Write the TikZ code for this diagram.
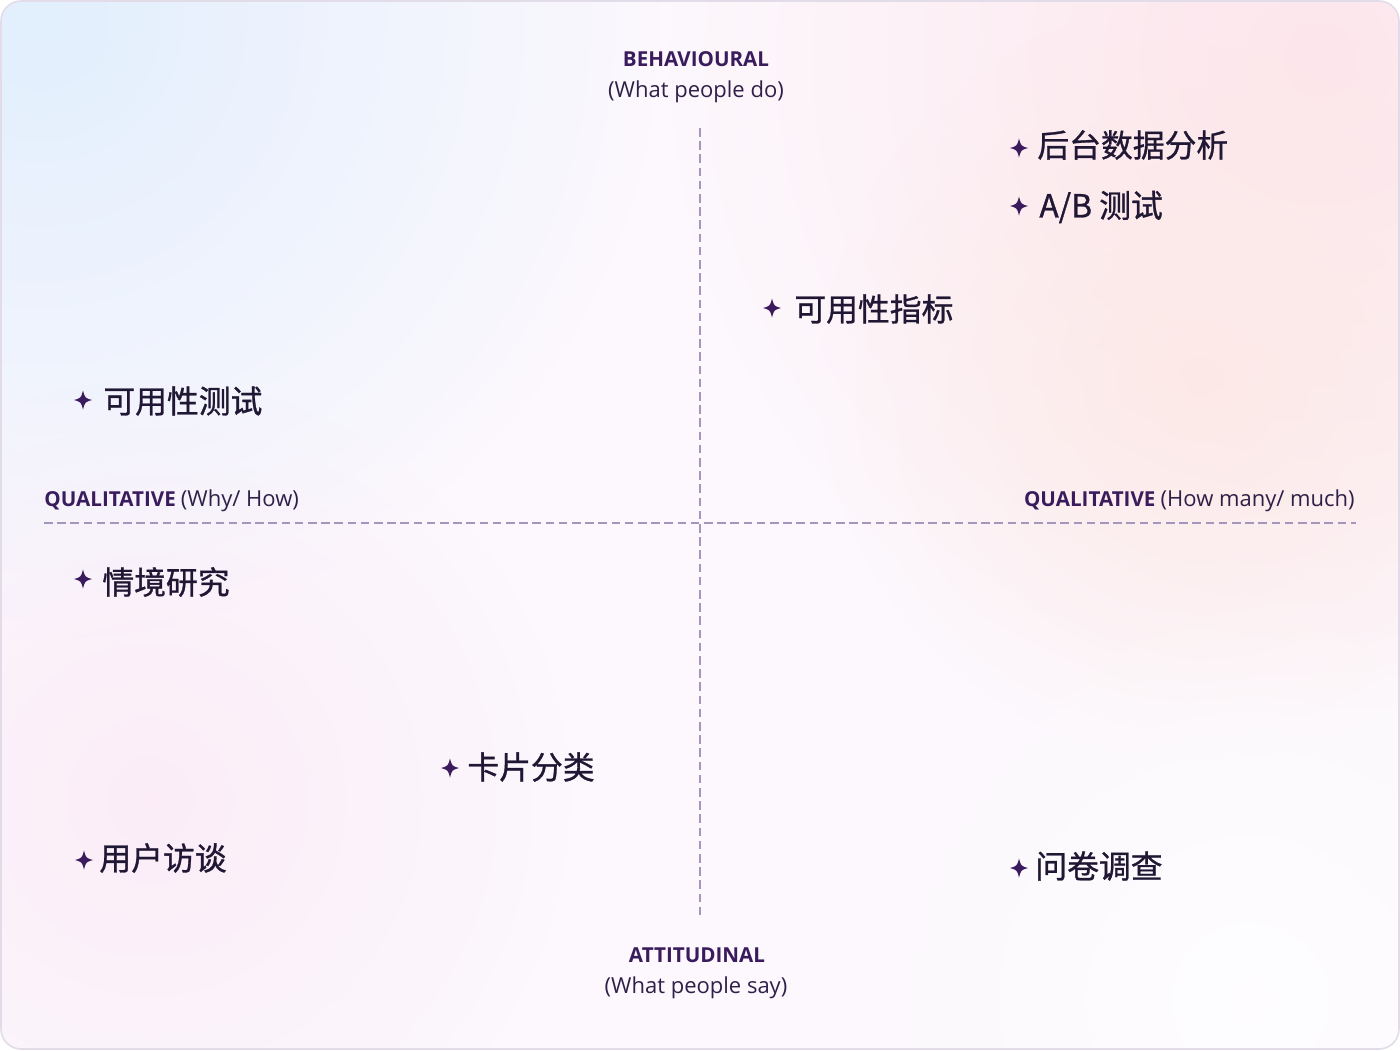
\documentclass[tikz,border=0pt]{standalone}
\usepackage{fontspec}
\setmainfont{Open Sans}
\newfontfamily\cjk{Noto Sans CJK SC}[FakeBold=0.9]
\usetikzlibrary{fadings}
\tikzfading[name=softglow, inner color=transparent!0, outer color=transparent!100]
\definecolor{bgbase}{HTML}{FCF8FD}
\definecolor{blobblue}{HTML}{E2EFFD}
\definecolor{blobpink}{HTML}{FCE6EC}
\definecolor{blobpeach}{HTML}{FCE8E4}
\definecolor{blobrose}{HTML}{FBEAF6}
\definecolor{framec}{HTML}{E2DCE8}
\definecolor{axisc}{HTML}{A596BE}
\definecolor{labelc}{HTML}{3A1C5C}
\definecolor{subc}{HTML}{2E2048}
\definecolor{itemc}{HTML}{1F1733}
\definecolor{starc}{HTML}{3B1A5E}
\tikzset{
  axislabel/.style={font=\fontsize{10.3}{12}\selectfont\bfseries, text=labelc, inner sep=0pt},
  axissub/.style={font=\fontsize{11}{13}\selectfont, text=subc, inner sep=0pt},
  axisline/.style={draw=axisc, line width=1.4pt, dash pattern=on 4.3pt off 2.3pt},
  itemtext/.style={font=\cjk\fontsize{15.9}{18}\selectfont, text=itemc, inner sep=0pt, anchor=west},
  blob/.style={path fading=softglow},
  sparkle/.pic={\fill[starc] (0,-9.5) .. controls (2,-2) .. (9,0) .. controls (2,2) .. (0,9.5) .. controls (-2,2) .. (-9,0) .. controls (-2,-2) .. (0,-9.5) -- cycle;}
}
\begin{document}
\begin{tikzpicture}[x=0.5pt, y=-0.5pt]
\useasboundingbox (0,0) rectangle (1400,1050);
% background card
\begin{scope}
\clip[rounded corners=10pt] (1,1) rectangle (1399,1049);
\fill[bgbase] (0,0) rectangle (1400,1050);
\fill[blobblue, blob] (40,20) circle (620);
\fill[blobpink, blob] (1320,60) circle (650);
\fill[blobpeach, blob, opacity=0.8] (1200,380) circle (380);
\fill[blobrose, blob, opacity=0.8] (150,800) circle (420);
\fill[white, blob, opacity=0.7] (1250,1000) circle (420);
\end{scope}
\draw[framec, line width=0.8pt, rounded corners=10pt] (1,1) rectangle (1399,1049);

% axes
\coordinate (vtop) at (700,128);
\coordinate (vbot) at (700,918);
\coordinate (hleft) at (44,523);
\coordinate (hright) at (1356,523);
\draw[axisline] (vtop) -- (vbot);
\draw[axisline] (hleft) -- (hright);

% axis labels
\node[axislabel] (beh) at (696,59) {BEHAVIOURAL};
\node[axissub] (behsub) at (696,92) {(What people do)};
\node[axislabel] (att) at (697,955) {ATTITUDINAL};
\node[axissub] (attsub) at (696,988) {(What people say)};
\node[inner sep=0pt, anchor=west] (qualL) at (44,501) {\textcolor{labelc}{\fontsize{10.3}{12}\selectfont\bfseries QUALITATIVE} \textcolor{subc}{\fontsize{11}{13}\selectfont(Why/ How)}};
\node[inner sep=0pt, anchor=east] (qualR) at (1355,501) {\textcolor{labelc}{\fontsize{10.3}{12}\selectfont\bfseries QUALITATIVE} \textcolor{subc}{\fontsize{11}{13}\selectfont(How many/ much)}};

% items
\pic at (1019,148) {sparkle};
\node[itemtext] (i1) at (1037,145) {后台数据分析};
\pic at (1019,206) {sparkle};
\node[itemtext] (i2) at (1039,207) {A/B 测试};
\pic at (772,308) {sparkle};
\node[itemtext] (i3) at (794,309) {可用性指标};
\pic at (83,400) {sparkle};
\node[itemtext] (i4) at (103,401) {可用性测试};
\pic at (83,579) {sparkle};
\node[itemtext] (i5) at (102,582) {情境研究};
\pic at (450,768) {sparkle};
\node[itemtext] (i6) at (467,767) {卡片分类};
\pic at (84,860) {sparkle};
\node[itemtext] (i7) at (99,858) {用户访谈};
\pic at (1019,868) {sparkle};
\node[itemtext] (i8) at (1035,866) {问卷调查};
\end{tikzpicture}
\end{document}
